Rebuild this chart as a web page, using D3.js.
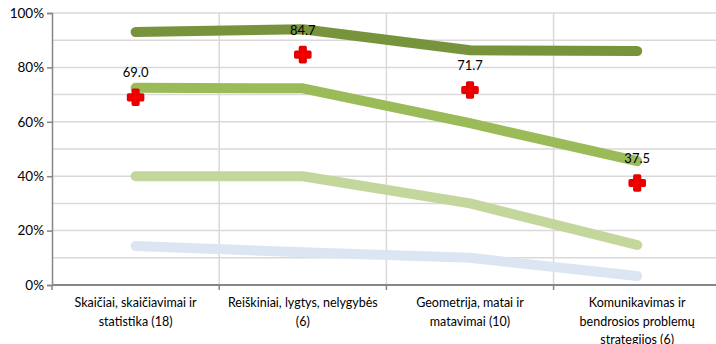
<!DOCTYPE html>
<html><head><meta charset="utf-8">
<script src="https://cdn.jsdelivr.net/npm/d3@7"></script>
<style>body{margin:0;background:#fff}svg{display:block;font-family:Lato,"Open Sans",sans-serif}</style>
</head><body><svg id="c" width="716" height="344"></svg>
<script>
const categories = [
  ["Skaičiai, skaičiavimai ir", "statistika (18)"],
  ["Reiškiniai, lygtys, nelygybės", "(6)"],
  ["Geometrija, matai ir", "matavimai (10)"],
  ["Komunikavimas ir", "bendrosios problemų", "strategijos (6)"]
];
const seriesDark = [93, 94, 86.3, 86];
const seriesMid = [72.5, 72.3, 59.5, 45.5];
const seriesLight = [40, 40, 30, 14.7];
const seriesBlue = [14.3, 12, 10, 3.3];
const markerValues = [69.0, 84.7, 71.7, 37.5];
const yTicks = [0, 20, 40, 60, 80, 100];
const gridTicks = [10, 20, 30, 40, 50, 60, 70, 80, 90, 100];

(function () {
const svg = d3.select("#c");
const mLeft = 52, mTop = 13, mBottom = 285, bandW = 167.2;
const x = d3.scaleBand().domain(d3.range(categories.length)).range([mLeft, mLeft + bandW * 4]);
const y = d3.scaleLinear().domain([0, 100]).range([mBottom, mTop]);
const cx = i => x(i) + x.bandwidth() / 2;

svg.append("g").selectAll("line").data(gridTicks).join("line")
  .attr("x1", mLeft).attr("x2", 716).attr("y1", d => y(d)).attr("y2", d => y(d))
  .attr("stroke", "#D9D9D9").attr("stroke-width", 1.5);
svg.append("g").selectAll("line").data(d3.range(1, 4)).join("line")
  .attr("x1", i => x(i)).attr("x2", i => x(i)).attr("y1", mTop).attr("y2", mBottom)
  .attr("stroke", "#D9D9D9").attr("stroke-width", 1.5);

const yAxis = svg.append("g").attr("transform", `translate(${mLeft},0)`)
  .call(d3.axisLeft(y).tickValues(yTicks).tickFormat(d => d + "%").tickSizeOuter(0).tickSize(5));
yAxis.select(".domain").attr("stroke", "#868686").attr("stroke-width", 1.5);
yAxis.selectAll(".tick line").attr("stroke", "#868686").attr("stroke-width", 1.5);
yAxis.selectAll(".tick text").attr("font-size", 13.5).attr("fill", "#000").attr("x", -8).attr("font-family", "Lato,sans-serif");

const xAxisG = svg.append("g");
xAxisG.append("line").attr("x1", mLeft).attr("x2", 716).attr("y1", mBottom).attr("y2", mBottom)
  .attr("stroke", "#868686").attr("stroke-width", 2);
xAxisG.selectAll("line.t").data(d3.range(0, 4)).join("line").attr("class", "t")
  .attr("x1", i => x(i)).attr("x2", i => x(i)).attr("y1", mBottom).attr("y2", mBottom + 5)
  .attr("stroke", "#868686").attr("stroke-width", 1.5);
const labels = xAxisG.selectAll("text").data(categories).join("text")
  .attr("text-anchor", "middle").attr("font-size", 12.5).attr("fill", "#000");
labels.each(function(d, i) {
  d3.select(this).selectAll("tspan").data(d).join("tspan")
    .attr("x", cx(i)).attr("y", (t, j) => 307 + j * 18.5).text(t => t);
});

const line = d3.line().x((d, i) => cx(i)).y(d => y(d));
const series = [
  [seriesBlue, "#DCE6F2"],
  [seriesLight, "#C3D69B"],
  [seriesMid, "#9BBB59"],
  [seriesDark, "#77933C"]
];
svg.append("g").selectAll("path").data(series).join("path")
  .attr("d", d => line(d[0])).attr("fill", "none").attr("stroke", d => d[1])
  .attr("stroke-width", 10).attr("stroke-linecap", "round").attr("stroke-linejoin", "round");

const sym = d3.symbol().type(d3.symbolCross).size(110);
svg.append("g").selectAll("path").data(markerValues).join("path")
  .attr("d", sym).attr("transform", (d, i) => `translate(${cx(i)},${y(d)})`)
  .attr("fill", "#FF0000").attr("stroke", "#E60000").attr("stroke-width", 3.5).attr("stroke-linejoin", "round");

svg.append("g").selectAll("text").data(markerValues).join("text")
  .attr("x", (d, i) => cx(i)).attr("y", d => y(d) - 20)
  .attr("text-anchor", "middle").attr("font-size", 13).attr("fill", "#000")
  .text(d => d.toFixed(1));
})();
</script></body></html>
